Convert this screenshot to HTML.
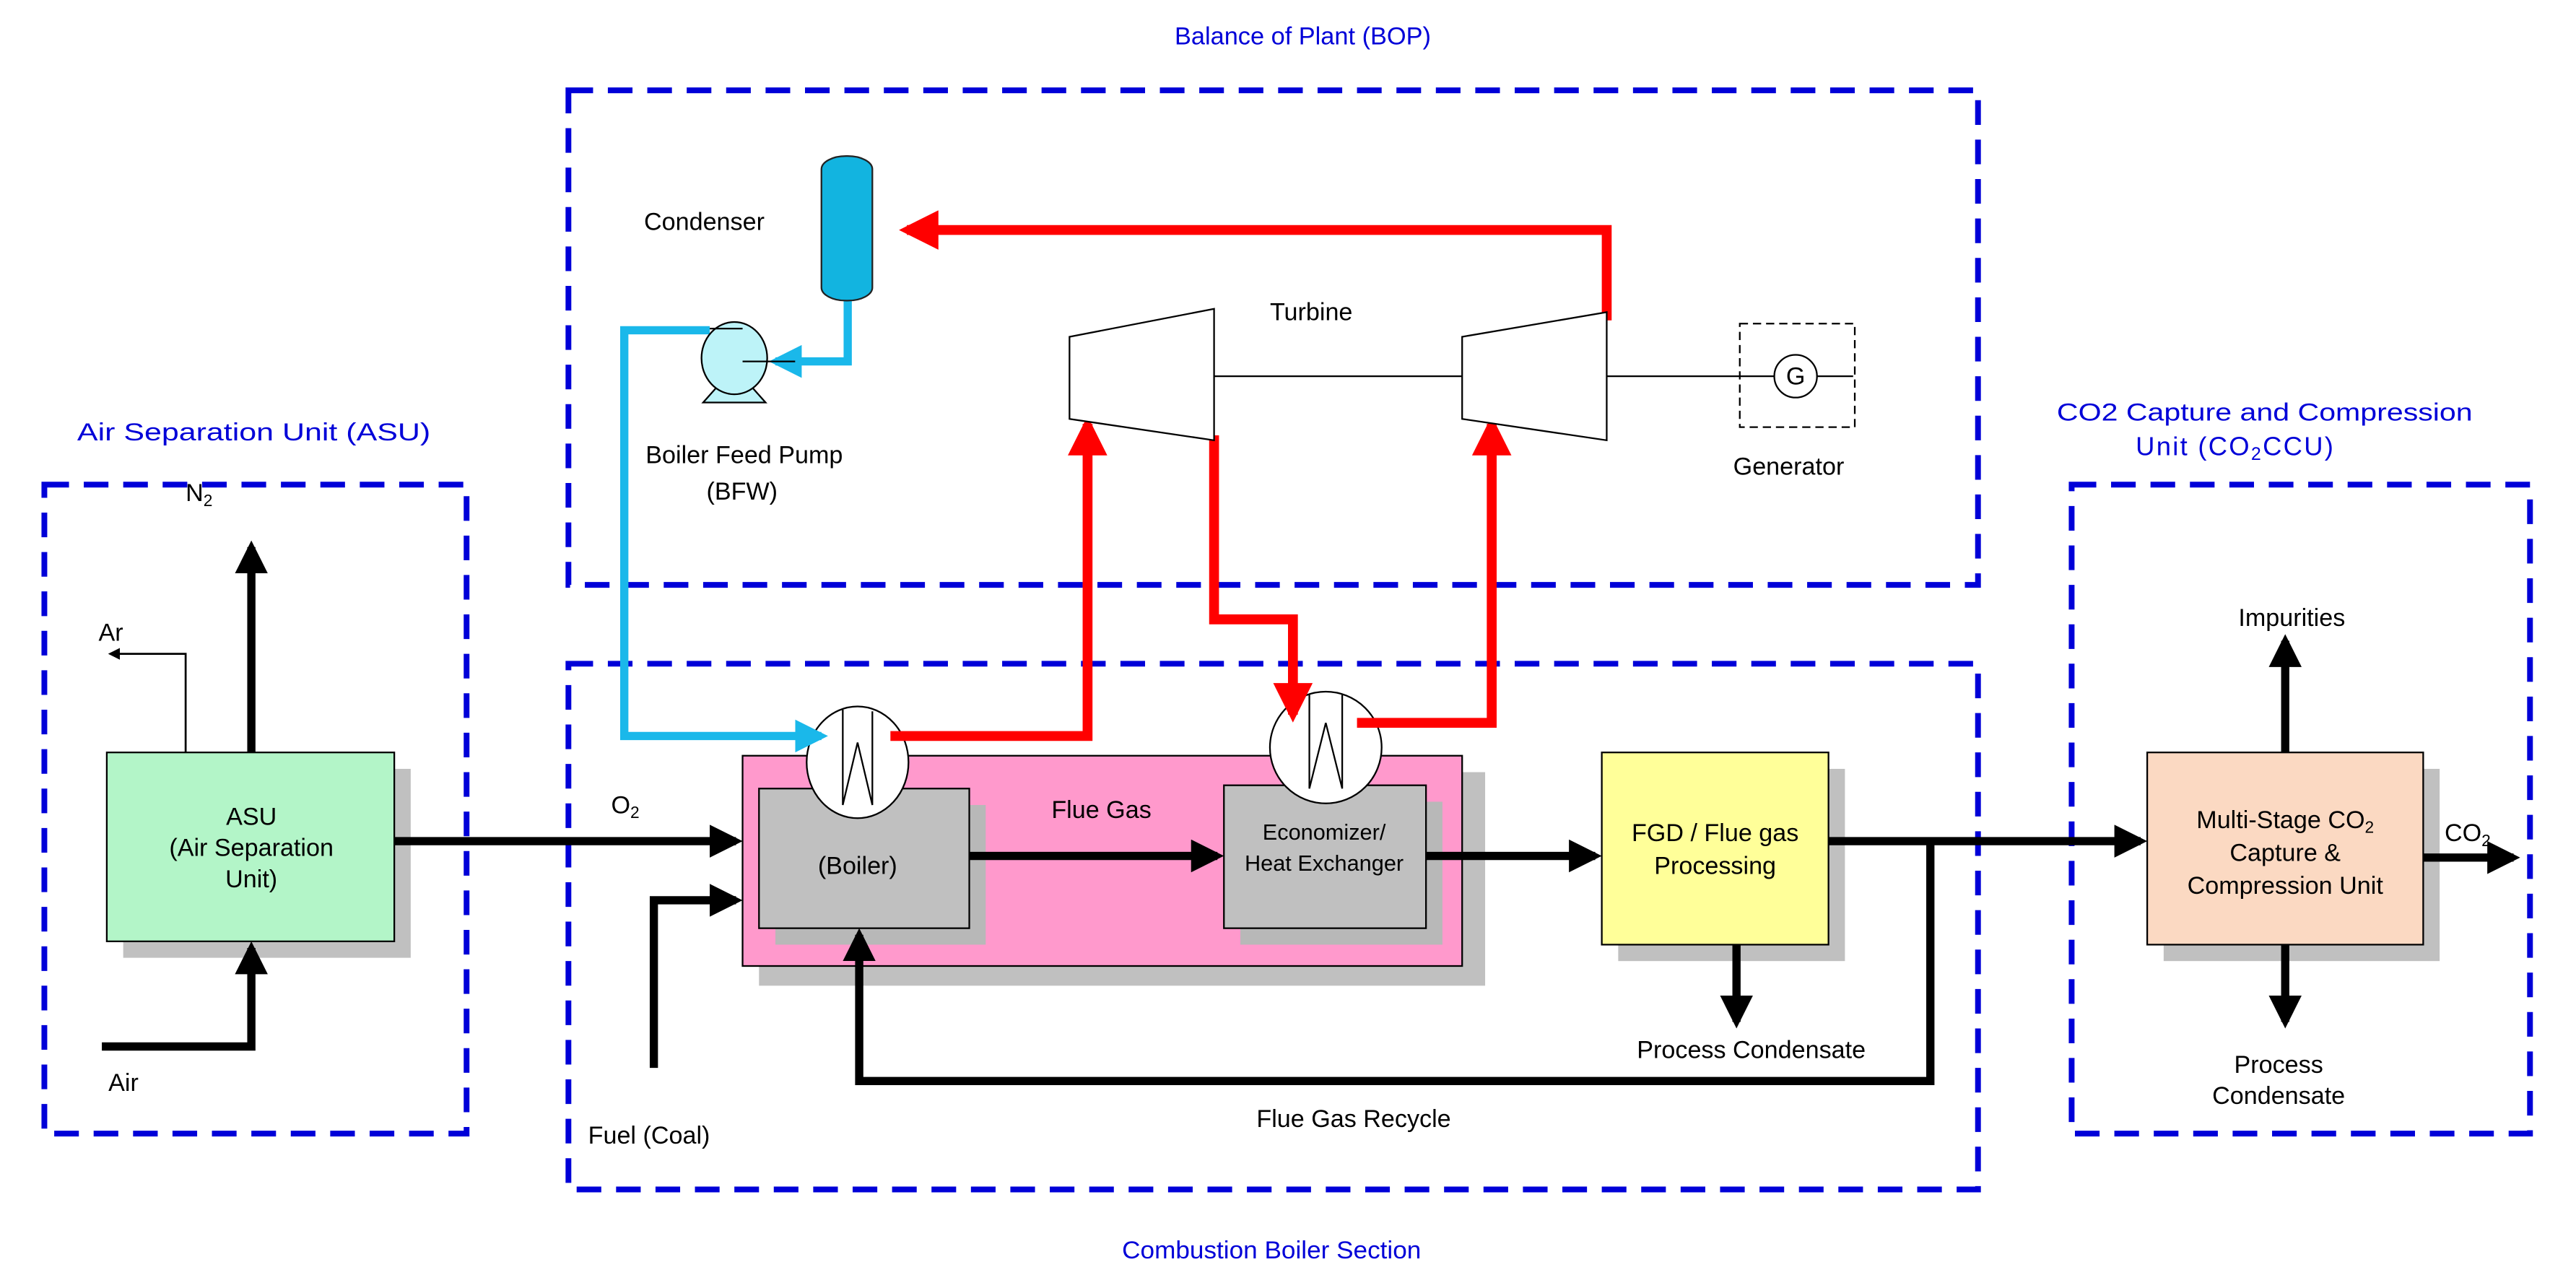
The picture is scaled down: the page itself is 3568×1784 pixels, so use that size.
<!DOCTYPE html>
<html><head><meta charset="utf-8">
<style>html,body{margin:0;padding:0;background:#fff}svg{display:block}</style></head>
<body>
<svg width="3568" height="1784" viewBox="0 0 1568 784" xmlns="http://www.w3.org/2000/svg" font-family="Liberation Sans, sans-serif">
<defs>
<marker id="ab" markerWidth="4" markerHeight="4" refX="3.2" refY="2" orient="auto" markerUnits="strokeWidth"><path d="M0,0 L4,2 L0,4 z" fill="#000"/></marker>
<marker id="ar" markerWidth="4" markerHeight="4" refX="3.2" refY="2" orient="auto" markerUnits="strokeWidth"><path d="M0,0 L4,2 L0,4 z" fill="#f00"/></marker>
<marker id="ac" markerWidth="4" markerHeight="4" refX="3.2" refY="2" orient="auto" markerUnits="strokeWidth"><path d="M0,0 L4,2 L0,4 z" fill="#1ab8ea"/></marker>
<marker id="at" markerWidth="6" markerHeight="6" refX="5" refY="3" orient="auto" markerUnits="strokeWidth"><path d="M0,0 L6,3 L0,6 z" fill="#000"/></marker>
</defs>
<g fill="none" stroke="#0000d8" stroke-width="3.5" stroke-dasharray="15 9">
<rect x="346" y="55" width="858" height="301"/>
<rect x="346" y="404" width="858" height="320"/>
<rect x="27" y="295" width="257" height="395"/>
<rect x="1261" y="295" width="279" height="395"/>
</g>
<g fill="#0000d8" font-size="15">
<text x="715" y="27" textLength="156" lengthAdjust="spacingAndGlyphs">Balance of Plant (BOP)</text>
<text x="683" y="766" textLength="182" lengthAdjust="spacingAndGlyphs">Combustion Boiler Section</text>
<text x="47" y="268" textLength="215" lengthAdjust="spacingAndGlyphs">Air Separation Unit (ASU)</text>
<text x="1252" y="256" textLength="253" lengthAdjust="spacingAndGlyphs">CO2 Capture and Compression</text>
<text x="1300" y="277" font-size="16" letter-spacing="1">Unit (CO<tspan font-size="11" dy="3">2</tspan><tspan dy="-3">CCU)</tspan></text>
</g>
<g fill="#c0c0c0">
<rect x="75" y="468" width="175" height="115"/>
<rect x="462" y="470" width="442" height="130"/>
<rect x="985" y="468" width="138" height="117"/>
<rect x="1317" y="468" width="168" height="117"/>
</g>
<rect x="65" y="458" width="175" height="115" fill="#b3f5c8" stroke="#000"/>
<rect x="452" y="460" width="438" height="128" fill="#ff99cc" stroke="#000"/>
<rect x="472" y="490" width="128" height="85" fill="#b8b8b8"/>
<rect x="462" y="480" width="128" height="85" fill="#c0c0c0" stroke="#000"/>
<rect x="755" y="488" width="123" height="87" fill="#b8b8b8"/>
<rect x="745" y="478" width="123" height="87" fill="#c0c0c0" stroke="#000"/>
<rect x="975" y="458" width="138" height="117" fill="#ffff99" stroke="#000"/>
<rect x="1307" y="458" width="168" height="117" fill="#fbd9c2" stroke="#000"/>
<ellipse cx="522" cy="464" rx="31" ry="34" fill="#fff" stroke="#000"/>
<path d="M513,432 L513,490 L522,452 L531,490 L531,433" fill="none" stroke="#000"/>
<ellipse cx="807" cy="455" rx="34" ry="34" fill="#fff" stroke="#000"/>
<path d="M797,423 L797,480 L807,440 L817,480 L817,423" fill="none" stroke="#000"/>
<g stroke="#000" stroke-width="5" fill="none">
<line x1="240" y1="512" x2="448" y2="512" marker-end="url(#ab)"/>
<polyline points="398,650 398,548 448,548" marker-end="url(#ab)"/>
<line x1="590" y1="521" x2="741" y2="521" marker-end="url(#ab)"/>
<line x1="868" y1="521" x2="971" y2="521" marker-end="url(#ab)"/>
<line x1="1113" y1="512" x2="1303" y2="512" marker-end="url(#ab)"/>
<polyline points="1175,512 1175,658 523,658 523,569" marker-end="url(#ab)"/>
<line x1="1057" y1="575" x2="1057" y2="622" marker-end="url(#ab)"/>
<line x1="153" y1="458" x2="153" y2="333" marker-end="url(#ab)"/>
<polyline points="62,637 153,637 153,577" marker-end="url(#ab)"/>
<line x1="1391" y1="458" x2="1391" y2="390" marker-end="url(#ab)"/>
<line x1="1391" y1="575" x2="1391" y2="622" marker-end="url(#ab)"/>
<line x1="1475" y1="522" x2="1530" y2="522" marker-end="url(#ab)"/>
</g>
<polyline points="113,458 113,398 67,398" stroke="#000" stroke-width="1.2" fill="none" marker-end="url(#at)"/>
<g stroke="#f00" stroke-width="6" fill="none">
<polyline points="978,195 978,140 552,140" marker-end="url(#ar)"/>
<polyline points="739,265 739,377 787,377 787,435" marker-end="url(#ar)"/>
<polyline points="542,448 662,448 662,258" marker-end="url(#ar)"/>
<polyline points="826,440 908,440 908,258" marker-end="url(#ar)"/>
</g>
<g stroke="#1ab8ea" stroke-width="5" fill="none">
<polyline points="516,183 516,220 472,220" marker-end="url(#ac)"/>
<polyline points="432,201 380,201 380,448 500,448" marker-end="url(#ac)"/>
</g>
<rect x="500" y="95" width="31" height="88" rx="15" ry="8" fill="#12b4e0" stroke="#222"/>
<path d="M428,245 L436,236 L458,236 L466,245 z" fill="#bdf3f8" stroke="#000"/>
<ellipse cx="447" cy="218" rx="20" ry="22" fill="#bdf3f8" stroke="#000"/>
<line x1="452" y1="220" x2="484" y2="220" stroke="#000"/>
<line x1="432" y1="200" x2="452" y2="200" stroke="#000"/>
<polygon points="651,205 739,188 739,268 651,255" fill="#fff" stroke="#000"/>
<polygon points="890,205 978,190 978,268 890,255" fill="#fff" stroke="#000"/>
<line x1="739" y1="229" x2="890" y2="229" stroke="#000"/>
<line x1="978" y1="229" x2="1128" y2="229" stroke="#000"/>
<rect x="1059" y="197" width="70" height="63" fill="none" stroke="#000" stroke-dasharray="5 3"/>
<circle cx="1093" cy="229" r="13" fill="#fff" stroke="#000"/>
<g fill="#000" font-size="15">
<text x="1093" y="234" text-anchor="middle">G</text>
<text x="392" y="140">Condenser</text>
<text x="773" y="195">Turbine</text>
<text x="1055" y="289">Generator</text>
<text x="393" y="282">Boiler Feed Pump</text>
<text x="430" y="304">(BFW)</text>
<text x="113" y="305">N<tspan font-size="10" dy="3">2</tspan></text>
<text x="60" y="390">Ar</text>
<text x="66" y="664">Air</text>
<text x="372" y="495">O<tspan font-size="10" dy="3">2</tspan></text>
<text x="358" y="696">Fuel (Coal)</text>
<text x="640" y="498">Flue Gas</text>
<text x="522" y="532" text-anchor="middle">(Boiler)</text>
<text x="806" y="511" text-anchor="middle" font-size="13.5">Economizer/</text>
<text x="806" y="530" text-anchor="middle" font-size="13.5">Heat Exchanger</text>
<text x="1044" y="512" text-anchor="middle">FGD / Flue gas</text>
<text x="1044" y="532" text-anchor="middle">Processing</text>
<text x="1066" y="644" text-anchor="middle">Process Condensate</text>
<text x="824" y="686" text-anchor="middle">Flue Gas Recycle</text>
<text x="153" y="502" text-anchor="middle">ASU</text>
<text x="153" y="521" text-anchor="middle">(Air Separation</text>
<text x="153" y="540" text-anchor="middle">Unit)</text>
<text x="1391" y="504" text-anchor="middle">Multi-Stage CO<tspan font-size="10" dy="3">2</tspan></text>
<text x="1391" y="524" text-anchor="middle">Capture &amp;</text>
<text x="1391" y="544" text-anchor="middle">Compression Unit</text>
<text x="1488" y="512">CO<tspan font-size="10" dy="3">2</tspan></text>
<text x="1395" y="381" text-anchor="middle">Impurities</text>
<text x="1387" y="653" text-anchor="middle">Process</text>
<text x="1387" y="672" text-anchor="middle">Condensate</text>
</g>
</svg>
</body></html>
